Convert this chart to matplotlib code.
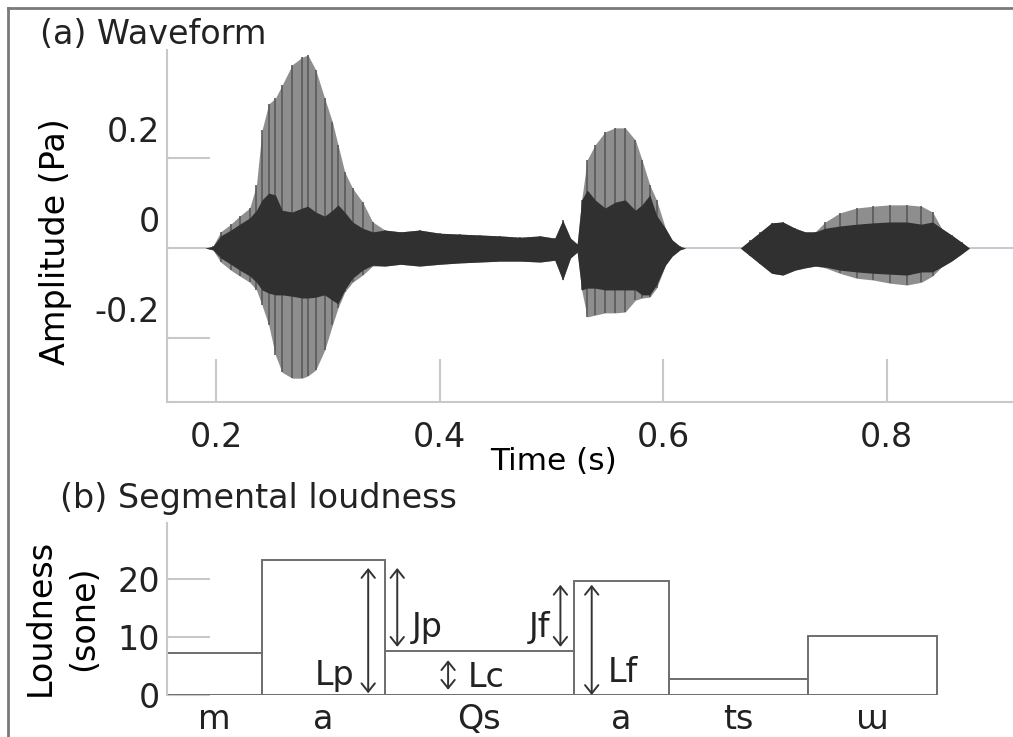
import matplotlib
matplotlib.use("Agg")
import matplotlib.pyplot as plt
import matplotlib.transforms as mtransforms
from matplotlib.lines import Line2D

plt.rcParams['font.family'] = ['DejaVu Sans']
plt.rcParams['text.color'] = '#222222'
plt.rcParams['xtick.color'] = '#222222'
plt.rcParams['ytick.color'] = '#222222'

# (a) waveform envelopes (time in s, amplitude in Pa)
t_wave = [0.190, 0.197, 0.204, 0.213, 0.221, 0.230, 0.236, 0.241, 0.247, 0.253,
          0.259, 0.268, 0.277, 0.282, 0.289, 0.297, 0.304, 0.309, 0.315, 0.322,
          0.331, 0.340, 0.351, 0.365, 0.382, 0.400, 0.418, 0.436, 0.454, 0.472,
          0.490, 0.503, 0.510, 0.517, 0.523, 0.527, 0.532, 0.539, 0.548, 0.557,
          0.566, 0.575, 0.581, 0.588, 0.594, 0.602, 0.608, 0.615, 0.620, 0.669,
          0.678, 0.687, 0.697, 0.707, 0.718, 0.727, 0.736, 0.745, 0.758, 0.773,
          0.788, 0.803, 0.818, 0.831, 0.841, 0.849, 0.858, 0.867, 0.874]
outer_hi = [0, .004, .036, .053, .071, .089, .140, .262, .320, .333,
            .362, .407, .424, .429, .396, .333, .280, .229, .169, .133,
            .102, .058, .040, .036, .040, .033, .031, .029, .027, .024,
            .027, .022, .062, .022, .009, .107, .196, .229, .258, .267,
            .267, .240, .196, .140, .107, .044, .018, .004, 0, 0,
            .018, .036, .056, .058, .044, .036, .036, .058, .078, .089,
            .093, .096, .096, .093, .080, .044, .029, .013, 0]
outer_lo = [0, -.004, -.031, -.049, -.062, -.076, -.093, -.127, -.171, -.238,
            -.276, -.289, -.289, -.284, -.271, -.227, -.171, -.133, -.098, -.076,
            -.060, -.040, -.040, -.036, -.040, -.036, -.033, -.031, -.029, -.029,
            -.031, -.027, -.071, -.022, -.009, -.093, -.153, -.149, -.144, -.144,
            -.142, -.116, -.111, -.109, -.089, -.038, -.018, -.004, 0, 0,
            -.018, -.036, -.056, -.060, -.049, -.044, -.040, -.044, -.056, -.067,
            -.071, -.078, -.082, -.076, -.062, -.042, -.029, -.013, 0]
inner_hi = [0, .004, .027, .040, .053, .067, .084, .107, .122, .118,
            .084, .080, .089, .093, .080, .071, .084, .096, .080, .058,
            .044, .036, .040, .036, .040, .033, .031, .029, .027, .024,
            .027, .022, .062, .022, .009, .107, .129, .107, .089, .102,
            .107, .084, .096, .118, .073, .044, .018, .004, 0, 0,
            .018, .036, .056, .058, .044, .036, .036, .044, .049, .053,
            .056, .058, .058, .053, .058, .044, .029, .013, 0]
inner_lo = [0, -.004, -.022, -.036, -.049, -.062, -.076, -.093, -.100, -.104,
            -.104, -.107, -.111, -.111, -.109, -.104, -.116, -.124, -.093, -.067,
            -.049, -.038, -.040, -.036, -.040, -.036, -.033, -.031, -.029, -.029,
            -.031, -.027, -.071, -.022, -.009, -.093, -.089, -.089, -.093, -.093,
            -.093, -.093, -.104, -.104, -.082, -.038, -.018, -.004, 0, 0,
            -.018, -.036, -.056, -.060, -.049, -.044, -.040, -.042, -.049, -.053,
            -.056, -.058, -.060, -.053, -.053, -.042, -.029, -.013, 0]

time_ticks = [0.2, 0.4, 0.6, 0.8]
amp_ticks = [-0.2, 0, 0.2]

# (b) segmental loudness
seg_edges = [0.156, 0.241, 0.351, 0.520, 0.605, 0.730, 0.845]
seg_labels = ['m', 'a', 'Qs', 'a', 'ts', 'ɯ']
loudness = [7.3, 23.3, 7.6, 19.7, 2.8, 10.2]
loud_ticks = [0, 10, 20]

axis_grey = '#c8c8c8'

fig = plt.figure(figsize=(10.13, 7.37), dpi=100)

# ---- (a) waveform ----
ax1 = fig.add_axes([0.1649, 0.4545, 0.8351, 0.4777])
ax1.axhline(0, color='#b9c0c6', lw=1.2, zorder=1)
ax1.fill_between(t_wave, outer_lo, outer_hi, color='#8e8e8e', lw=0, zorder=2)
ax1.vlines(t_wave, outer_lo, outer_hi, color='#5a5a5a', lw=1.2, zorder=3)
ax1.fill_between(t_wave, inner_lo, inner_hi, color='#303030', lw=0, zorder=4)

ax1.set_xlim(0.156, 0.913)
ax1.set_ylim(-0.342, 0.44)
ax1.spines[['top', 'right']].set_visible(False)
for s in ['left', 'bottom']:
    ax1.spines[s].set_color(axis_grey)
    ax1.spines[s].set_linewidth(1.5)
ax1.tick_params(direction='in', length=31, width=1.5, color=axis_grey, labelsize=24)
ax1.tick_params(axis='x', pad=14)
ax1.tick_params(axis='y', pad=5)
ax1.set_xticks(time_ticks, [f'{v:g}' for v in time_ticks])
ax1.set_yticks(amp_ticks, ['-0.2', '0', '0.2'])

# labels sit a bit above their tick marks in the original
off = mtransforms.ScaledTranslation(0, 0.29, fig.dpi_scale_trans)
for lbl in ax1.get_yticklabels():
    lbl.set_transform(lbl.get_transform() + off)

ax1.set_xlabel('Time (s)', fontsize=22.5)
ax1.xaxis.set_label_coords(0.4574, -0.128)
ax1.set_ylabel('Amplitude (Pa)', fontsize=24, va='center')
ax1.yaxis.set_label_coords(-0.132, 0.457)

# ---- (b) segmental loudness ----
ax2 = fig.add_axes([0.1649, 0.0570, 0.8351, 0.2334])
widths = [seg_edges[i + 1] - seg_edges[i] for i in range(len(loudness))]
centers = [seg_edges[i] + widths[i] / 2 for i in range(len(loudness))]
ax2.bar(seg_edges[:-1], loudness, width=widths, align='edge',
        facecolor='white', edgecolor='#6e6e6e', lw=1.4, zorder=2)

ax2.set_xlim(0.156, 0.913)
ax2.set_ylim(0, 29.66)
ax2.spines[['top', 'right', 'bottom']].set_visible(False)
ax2.spines['left'].set_color(axis_grey)
ax2.spines['left'].set_linewidth(1.5)
ax2.tick_params(axis='y', direction='in', length=31, width=1.5, color=axis_grey,
                labelsize=24, pad=5)
ax2.tick_params(axis='x', length=0, labelsize=24, pad=6)
ax2.set_yticks(loud_ticks, [str(v) for v in loud_ticks])
ax2.set_xticks(centers, seg_labels)
ax2.set_ylabel('Loudness\n(sone)', fontsize=24, va='center', linespacing=1.4)
ax2.yaxis.set_label_coords(-0.124, 0.448)

arrow_kw = dict(arrowstyle='<->,head_length=0.3,head_width=0.24', mutation_scale=20,
                color='#333333', lw=1.4, shrinkA=0, shrinkB=0)


def double_arrow(x, y0, y1):
    ax2.annotate('', xy=(x, y0), xytext=(x, y1), arrowprops=arrow_kw, zorder=3)


e = seg_edges
L = loudness
double_arrow(e[2] - 0.015, 0.3, L[1] - 1.4)          # Lp
double_arrow(e[2] + 0.011, L[2] + 0.7, L[1] - 1.4)   # Jp
double_arrow(e[2] + 0.0565, 0.9, L[2] - 1.6)         # Lc
double_arrow(e[3] - 0.012, L[2] + 0.7, L[3] - 0.7)   # Jf
double_arrow(e[3] + 0.016, 0.0, L[3] - 0.7)          # Lf

ax2.text(e[2] - 0.027, 3.4, 'Lp', fontsize=24, ha='right', va='center')
ax2.text(e[2] + 0.024, 11.6, 'Jp', fontsize=24, ha='left', va='center')
ax2.text(e[2] + 0.074, 3.1, 'Lc', fontsize=24, ha='left', va='center')
ax2.text(e[3] - 0.021, 11.7, 'Jf', fontsize=24, ha='right', va='center')
ax2.text(e[3] + 0.030, 3.8, 'Lf', fontsize=24, ha='left', va='center')

# panel titles
fig.text(40 / 1013, 1 - 44 / 737, '(a) Waveform', fontsize=24, va='baseline')
fig.text(60 / 1013, 1 - 508 / 737, '(b) Segmental loudness', fontsize=24, va='baseline')

# outer frame (only the top and left edges show in the original crop)
fig.add_artist(Line2D([8 / 1013, 1], [1 - 8 / 737] * 2, transform=fig.transFigure,
                      color='#7a7a7a', lw=2))
fig.add_artist(Line2D([8 / 1013] * 2, [0, 1 - 8 / 737], transform=fig.transFigure,
                      color='#7a7a7a', lw=2))

fig.savefig('out.png', dpi=100)
plt.close(fig)
